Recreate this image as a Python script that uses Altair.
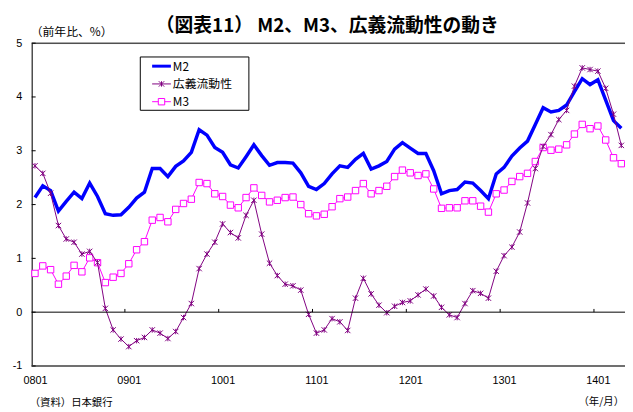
import json
import altair as alt
import pandas as pd

# ---------------- data ----------------
years = ["08", "09", "10", "11", "12", "13", "14"]
months = [f"{y}{m:02d}" for y in years for m in range(1, 13)][:76]

m2 = [2.13, 2.35, 2.26, 1.88, 2.06, 2.23, 2.11, 2.40, 2.15, 1.83, 1.80, 1.81,
      1.95, 2.12, 2.23, 2.67, 2.67, 2.52, 2.71, 2.81, 2.97, 3.39, 3.29, 3.06,
      2.97, 2.74, 2.68, 2.89, 3.11, 2.91, 2.73, 2.78, 2.78, 2.77, 2.59, 2.34,
      2.28, 2.39, 2.57, 2.72, 2.69, 2.84, 2.95, 2.66, 2.72, 2.80, 3.03, 3.15,
      3.05, 2.95, 2.95, 2.63, 2.20, 2.26, 2.28, 2.42, 2.40, 2.26, 2.11, 2.57,
      2.69, 2.90, 3.05, 3.18, 3.49, 3.80, 3.72, 3.75, 3.85, 4.10, 4.34, 4.23,
      4.32, 3.94, 3.56, 3.42]

broad = [2.72, 2.58, 2.21, 1.61, 1.36, 1.30, 1.08, 1.13, 0.92, 0.07, -0.33, -0.50,
         -0.64, -0.53, -0.47, -0.33, -0.39, -0.49, -0.36, -0.10, 0.16, 0.81, 1.08, 1.30,
         1.64, 1.48, 1.38, 1.80, 2.08, 1.45, 0.91, 0.68, 0.52, 0.49, 0.41, -0.04,
         -0.39, -0.33, -0.12, -0.18, -0.34, 0.26, 0.63, 0.34, 0.13, -0.01, 0.11, 0.18,
         0.21, 0.32, 0.43, 0.30, 0.09, -0.05, -0.10, 0.16, 0.40, 0.35, 0.26, 0.76,
         1.05, 1.21, 1.49, 2.03, 2.67, 3.08, 3.30, 3.58, 3.75, 4.20, 4.54, 4.51,
         4.48, 4.16, 3.68, 3.10]

m3 = [0.72, 0.86, 0.79, 0.52, 0.67, 0.87, 0.75, 1.01, 0.92, 0.55, 0.65, 0.72,
      0.90, 1.16, 1.31, 1.71, 1.76, 1.68, 1.91, 2.02, 2.10, 2.41, 2.39, 2.20,
      2.15, 1.99, 1.94, 2.13, 2.31, 2.17, 2.05, 2.08, 2.13, 2.14, 2.00, 1.83,
      1.79, 1.82, 1.96, 2.11, 2.14, 2.26, 2.39, 2.20, 2.26, 2.34, 2.52, 2.64,
      2.59, 2.54, 2.57, 2.29, 1.93, 1.94, 1.94, 2.07, 2.07, 1.97, 1.86, 2.20,
      2.27, 2.43, 2.52, 2.58, 2.80, 3.06, 3.01, 3.03, 3.11, 3.31, 3.49, 3.41,
      3.46, 3.20, 2.87, 2.76]

series_names = ["M2", "広義流動性", "M3"]
series_colors = ["#0000FF", "#800080", "#FF00FF"]
x_tick_labels = ["0801", "0901", "1001", "1101", "1201", "1301", "1401"]
y_ticks = [-1, 0, 1, 2, 3, 4, 5]

title_text = "（図表11） M2、M3、広義流動性の動き"
unit_text = "（前年比、%）"
xunit_text = "（年/月）"
source_text = "（資料）日本銀行"

# ---------------- tables ----------------
t_idx = list(range(len(months)))
wide = pd.DataFrame({"t": t_idx, "month": months,
                     "M2": m2, "広義流動性": broad, "M3": m3})
long = wide.melt(id_vars=["t", "month"], var_name="series", value_name="value")

label_pos = [months.index(lbl) for lbl in x_tick_labels]
boundary_pos = [p - 0.5 for p in label_pos[1:]]

W, H = 601, 327
JP = "Noto Sans CJK JP"
NUM = "Liberation Sans"

xscale = alt.Scale(domain=[-0.42, 75.47], nice=False, zero=False)
yscale = alt.Scale(domain=[-1, 5], nice=False, zero=False)

label_map = json.dumps({str(p): l for p, l in zip(label_pos, x_tick_labels)})

x_axis = alt.Axis(values=label_pos, labelExpr=f"{label_map}[datum.value]",
                  ticks=False, domain=False, grid=False, title=None,
                  labelFont=NUM, labelFontSize=11, labelColor="black",
                  labelPadding=9)
y_axis = alt.Axis(values=y_ticks, labelExpr="'' + datum.value",
                  ticks=False, domain=True, domainColor="black",
                  domainWidth=1, grid=False, title=None,
                  labelFont=NUM, labelFontSize=11, labelColor="black",
                  labelPadding=10)


def X(field="t"):
    return alt.X(f"{field}:Q", scale=xscale, axis=x_axis)


def Y(field="value"):
    return alt.Y(f"{field}:Q", scale=yscale, axis=y_axis)


# ---------------- series ----------------
star = "M-1,-1L1,1M-1,1L1,-1M0,-1L0,1"

m2_line = alt.Chart(long).transform_filter(alt.datum.series == "M2").mark_line(
    strokeWidth=3.5, color="#0000FF").encode(x=X(), y=Y())

m3_line = alt.Chart(long).transform_filter(alt.datum.series == "M3").mark_line(
    strokeWidth=1, color="#FF00FF").encode(x=X(), y=Y())
m3_pts = alt.Chart(long).transform_filter(alt.datum.series == "M3").mark_point(
    shape="square", filled=True, fill="white", stroke="#FF00FF", strokeWidth=1,
    size=42, opacity=1).encode(x=X(), y=Y())

br_line = alt.Chart(long).transform_filter(alt.datum.series == "広義流動性").mark_line(
    strokeWidth=1, color="#800080").encode(x=X(), y=Y())
br_pts = alt.Chart(long).transform_filter(alt.datum.series == "広義流動性").mark_point(
    shape=star, filled=False, stroke="#800080", strokeWidth=1,
    size=30, opacity=1).encode(x=X(), y=Y())


# ---------------- frame ----------------
def hrule(val, color, width):
    return alt.Chart(pd.DataFrame({"value": [val]})).mark_rule(
        color=color, strokeWidth=width).encode(
        y=Y(), x=alt.value(0), x2=alt.value(W))


top_rule = hrule(5, "black", 1)
bottom_rule = hrule(-1, "#707070", 2)
zero_rule = hrule(0, "black", 1)

xticks = alt.Chart(pd.DataFrame({"t": boundary_pos, "value": 0.0, "b": 0.06})).mark_rule(
    color="black", strokeWidth=1).encode(x=X(), y=Y(), y2="b:Q")

yticks = alt.Chart(pd.DataFrame({"value": y_ticks})).mark_rule(
    color="black", strokeWidth=1).encode(y=Y(), x=alt.value(0), x2=alt.value(4))

# ---------------- legend ----------------
one = pd.DataFrame({"a": [0]})
leg_layers = [alt.Chart(one).mark_rect(fill="white", stroke="black", strokeWidth=1).encode(
    x=alt.value(110), x2=alt.value(220), y=alt.value(14), y2=alt.value(68))]
leg_y = [23.3, 41.3, 59.3]
leg_w = [3, 1, 1]
for name, col, yy, sw in zip(series_names, series_colors, leg_y, leg_w):
    leg_layers.append(alt.Chart(one).mark_rule(color=col, strokeWidth=sw).encode(
        x=alt.value(122), x2=alt.value(141), y=alt.value(yy)))
    leg_layers.append(alt.Chart(one).mark_text(
        text=name, font=JP, fontSize=12, align="left", baseline="middle",
        color="black").encode(x=alt.value(143), y=alt.value(yy + 0.5)))
leg_layers.append(alt.Chart(one).mark_point(
    shape=star, filled=False, stroke="#800080", strokeWidth=1, size=30,
    opacity=1).encode(x=alt.value(131.5), y=alt.value(leg_y[1])))
leg_layers.append(alt.Chart(one).mark_point(
    shape="square", filled=True, fill="white", stroke="#FF00FF", strokeWidth=1,
    size=42, opacity=1).encode(x=alt.value(131.5), y=alt.value(leg_y[2])))

# ---------------- texts ----------------
title = alt.Chart(one).mark_text(
    text=title_text, font=JP, fontSize=19, fontWeight="bold", align="center",
    baseline="middle", color="black").encode(x=alt.value(299.5), y=alt.value(-17))
unit = alt.Chart(one).mark_text(
    text=unit_text, font=JP, fontSize=12, align="left", baseline="middle",
    color="black").encode(x=alt.value(-1), y=alt.value(-11))
xunit = alt.Chart(one).mark_text(
    text=xunit_text, font=JP, fontSize=10.5, align="right", baseline="middle",
    color="black").encode(x=alt.value(600), y=alt.value(364))
source = alt.Chart(one).mark_text(
    text=source_text, font=JP, fontSize=10.5, align="left", baseline="middle",
    color="black").encode(x=alt.value(-2), y=alt.value(365))

chart = alt.layer(
    m2_line, m3_line, m3_pts, br_line, br_pts,
    top_rule, bottom_rule, zero_rule, xticks, yticks,
    *leg_layers, title, unit, xunit, source
).properties(
    width=W, height=H,
    padding={"left": 24, "top": 33, "right": 0, "bottom": 43},
    autosize=alt.AutoSizeParams(type="none"),
).configure_view(stroke=None).configure(background="white")

chart.save("out.html", embed_options={"renderer": "svg", "actions": False})
